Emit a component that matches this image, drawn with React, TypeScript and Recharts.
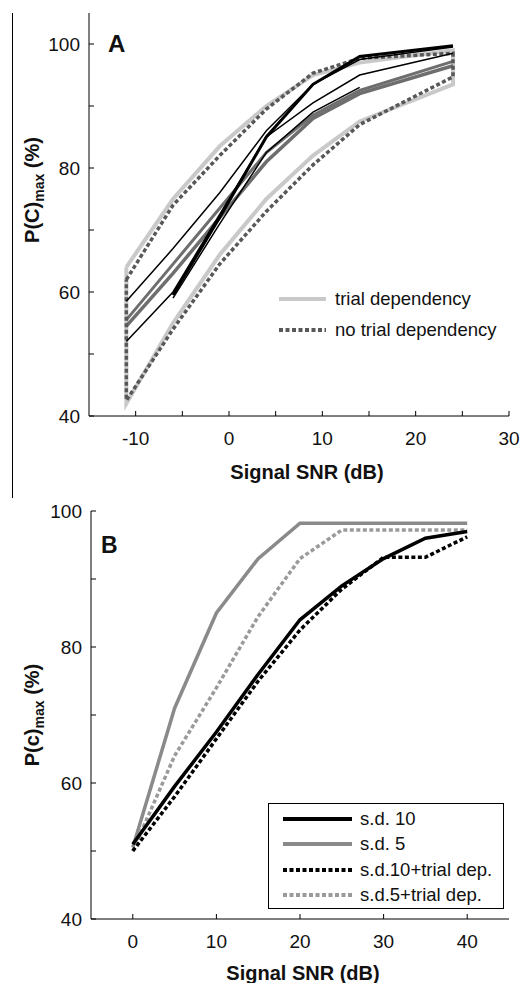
import { LineChart, Line, XAxis, YAxis } from 'recharts'

const FONT = '"Liberation Sans", Arial, Helvetica, sans-serif'

// ---- panel A data (signal SNR in dB, P(C)max in %) ----
const SNR_A = [-11, -6, -1, 4, 9, 14, 24]
const TRIAL_HI = [64, 75, 83.5, 90, 95, 97, 99]
const TRIAL_LO = [42, 55, 66, 75, 82, 87.5, 93.5]
const NOTRIAL_HI = [62, 74, 82, 89.5, 95.3, 97.7, 98.5]
const NOTRIAL_LO = [42.5, 54, 64.5, 73, 80.5, 87, 94.7]
const MID_1 = [54.5, 63, 72, 81, 88, 92, 96.5]
const MID_2 = [55.5, 64.5, 73.5, 82.5, 88.5, 92.5, 97.2]
const FIT_1 = [58.5, 67, 76, 86, 93.5, 97.5, 99.5]
const FIT_2 = [52, 60, 72.5, 85, 90.5, 95, 98.5]
const FIT_3 = [null, 59, 71, 82.5, 89, 93, null]
const FIT_4 = [null, 59.5, 72, 85, 93.5, 98, 99.7]

const X_TICKS_A = [-10, -5, 0, 5, 10, 15, 20, 25, 30]
const X_LABELS_A = [-10, 0, 10, 20, 30]

// ---- panel B data ----
const SNR_B = [0, 5, 10, 15, 20, 25, 30, 35, 40]
const SD10 = [51, 59.5, 67.5, 76, 84, 89, 93, 96, 97]
const SD5 = [50.5, 71, 85, 93, 98.2, 98.2, 98.2, 98.2, 98.2]
const SD10_TRIAL = [50, 58, 66.5, 75, 82.5, 88.5, 93.2, 93.2, 96.2]
const SD5_TRIAL = [50, 64, 74, 84.5, 93, 97.2, 97.2, 97.2, 97.2]

const X_TICKS_B = [0, 10, 20, 30, 40]
const X_LABELS_B = [0, 10, 20, 30, 40]

const Y_TICKS = [40, 50, 60, 70, 80, 90, 100]
const Y_LABELS = [40, 60, 80, 100]

type Pt = { x: number; y: number }

const toPts = (xs: number[], ys: (number | null)[]): Pt[] =>
  xs.map((x, i) => ({ x, y: ys[i] as number })).filter((p) => p.y != null)

// closed outline: upper curve out, lower curve back
const envelope = (xs: number[], hi: number[], lo: number[]): Pt[] => {
  const top = toPts(xs, hi)
  return [...top, ...toPts(xs, lo).reverse(), top[0]]
}

const makeTick = (side: 'bottom' | 'top' | 'left' | 'right', labels: number[]) =>
  // eslint-disable-next-line @typescript-eslint/no-explicit-any
  (props: any) => {
    const { x, y, payload } = props
    const v = payload.value
    const show = labels.includes(v)
    if (side === 'bottom') {
      return (
        <g>
          <line x1={x} x2={x} y1={y} y2={y - 5} stroke="#000" />
          {show && (
            <text x={x} y={y + 29} textAnchor="middle" fontSize={19} fontFamily={FONT} fill="#111">
              {v}
            </text>
          )}
        </g>
      )
    }
    if (side === 'top') return <line x1={x} x2={x} y1={y} y2={y + 5} stroke="#000" />
    if (side === 'right') return <line x1={x} x2={x - 5} y1={y} y2={y} stroke="#000" />
    return (
      <g>
        <line x1={x} x2={x + 5} y1={y} y2={y} stroke="#000" />
        {show && (
          <text x={x - 9} y={y + 7} textAnchor="end" fontSize={19} fontFamily={FONT} fill="#111">
            {v}
          </text>
        )}
      </g>
    )
  }

const LIGHT = '#c9c9c9'
const MID = '#6e6e6e'
const DARK_DASH = '#585858'

function Axes({ xDomain, xTicks, xLabels, yDomain }: {
  xDomain: [number, number]
  xTicks: number[]
  xLabels: number[]
  yDomain: [number, number]
}) {
  return [
    <XAxis key="xb" type="number" dataKey="x" domain={xDomain} ticks={xTicks} interval={0}
      allowDataOverflow height={30} tickSize={0} tickMargin={0} tickLine={false}
      axisLine={{ stroke: '#000' }} tick={makeTick('bottom', xLabels)} />,
    <XAxis key="xt" xAxisId="top" orientation="top" type="number" dataKey="x" domain={xDomain}
      ticks={xTicks} interval={0} allowDataOverflow height={0} tickSize={0} tickMargin={0}
      tickLine={false} axisLine={{ stroke: '#000' }} tick={makeTick('top', [])} />,
    <YAxis key="yl" type="number" domain={yDomain} ticks={Y_TICKS} interval={0} allowDataOverflow
      width={50} tickSize={0} tickMargin={0} tickLine={false} axisLine={{ stroke: '#000' }}
      tick={makeTick('left', Y_LABELS)} />,
    <YAxis key="yr" yAxisId="right" orientation="right" type="number" domain={yDomain}
      ticks={Y_TICKS} interval={0} allowDataOverflow width={0} tickSize={0} tickMargin={0}
      tickLine={false} axisLine={{ stroke: '#000' }} tick={makeTick('right', [])} />,
  ]
}

const lineProps = { type: 'linear' as const, dataKey: 'y', dot: false, activeDot: false, isAnimationActive: false }

function PanelA() {
  return (
    <LineChart width={529} height={490} margin={{ top: 13, right: 20, bottom: 44, left: 39 }}>
      {Axes({ xDomain: [-15, 30], xTicks: X_TICKS_A, xLabels: X_LABELS_A, yDomain: [40, 105] })}
      <Line {...lineProps} data={envelope(SNR_A, TRIAL_HI, TRIAL_LO)} stroke={LIGHT} strokeWidth={4} />
      <Line {...lineProps} data={toPts(SNR_A, MID_1)} stroke={MID} strokeWidth={3.5} />
      <Line {...lineProps} data={toPts(SNR_A, MID_2)} stroke={MID} strokeWidth={3} />
      <Line {...lineProps} data={envelope(SNR_A, NOTRIAL_HI, NOTRIAL_LO)} stroke={DARK_DASH}
        strokeWidth={3.5} strokeDasharray="4 2.5" />
      <Line {...lineProps} data={toPts(SNR_A, FIT_1)} stroke="#000" strokeWidth={1.5} />
      <Line {...lineProps} data={toPts(SNR_A, FIT_2)} stroke="#000" strokeWidth={1.5} />
      <Line {...lineProps} data={toPts(SNR_A, FIT_3)} stroke="#000" strokeWidth={1.5} />
      <Line {...lineProps} data={toPts(SNR_A, FIT_4)} stroke="#000" strokeWidth={3} />
    </LineChart>
  )
}

function PanelB() {
  return (
    <LineChart width={529} height={493} margin={{ top: 21, right: 20, bottom: 34, left: 41 }}>
      {Axes({ xDomain: [-5, 45], xTicks: X_TICKS_B, xLabels: X_LABELS_B, yDomain: [40, 100] })}
      <Line {...lineProps} data={toPts(SNR_B, SD5)} stroke="#8a8a8a" strokeWidth={3.5} />
      <Line {...lineProps} data={toPts(SNR_B, SD5_TRIAL)} stroke="#9a9a9a" strokeWidth={3.5}
        strokeDasharray="4 2.5" />
      <Line {...lineProps} data={toPts(SNR_B, SD10)} stroke="#000" strokeWidth={3.5} />
      <Line {...lineProps} data={toPts(SNR_B, SD10_TRIAL)} stroke="#000" strokeWidth={3.5}
        strokeDasharray="4 2.5" />
    </LineChart>
  )
}

const abs = (left: number, top: number): React.CSSProperties => ({ position: 'absolute', left, top })

const Sample = ({ color, dash, w }: { color: string; dash?: string; w: number }) => (
  <svg width={w} height={8} style={{ display: 'block' }}>
    <line x1={0} x2={w} y1={4} y2={4} stroke={color} strokeWidth={4} strokeDasharray={dash} />
  </svg>
)

const yTitle = (cx: number, cy: number, p: string) => (
  <div style={{
    ...abs(cx, cy), transform: 'translate(-50%, -50%) rotate(-90deg)', whiteSpace: 'nowrap',
    fontWeight: 'bold', fontSize: 20, color: '#111',
  }}>
    P({p})<sub style={{ fontSize: 14 }}>max</sub> (%)
  </div>
)

const xTitle = (cx: number, cy: number) => (
  <div style={{
    ...abs(cx, cy), transform: 'translate(-50%, -50%)', whiteSpace: 'nowrap',
    fontWeight: 'bold', fontSize: 20, color: '#111',
  }}>
    Signal SNR (dB)
  </div>
)

const LEGEND_A = [
  { label: 'trial dependency', color: LIGHT, dash: undefined, top: 288 },
  { label: 'no trial dependency', color: DARK_DASH, dash: '4 2.5', top: 319 },
]

const LEGEND_B = [
  { label: 's.d. 10', color: '#000', dash: undefined },
  { label: 's.d. 5', color: '#8a8a8a', dash: undefined },
  { label: 's.d.10+trial dep.', color: '#000', dash: '4 2.5' },
  { label: 's.d.5+trial dep.', color: '#9a9a9a', dash: '4 2.5' },
]

export default function App() {
  return (
    <div style={{ position: 'absolute', left: 0, top: 0, width: 529, height: 983, background: '#fff', fontFamily: FONT, overflow: 'hidden' }}>
      <div style={{ position: 'absolute', left: 0, top: 0 }}><PanelA /></div>
      <div style={{ position: 'absolute', left: 0, top: 490 }}><PanelB /></div>

      {/* figure border remnant on the left */}
      <div style={{ ...abs(12, 13), width: 1, height: 485, background: '#000' }} />

      <div style={{ ...abs(108, 30), fontWeight: 'bold', fontSize: 24, color: '#111' }}>A</div>
      <div style={{ ...abs(101, 532), fontWeight: 'bold', fontSize: 23, color: '#111' }}>B</div>

      {yTitle(34, 190, 'C')}
      {yTitle(34, 715, 'c')}
      {xTitle(307, 472)}
      {xTitle(303, 973)}

      {LEGEND_A.map((l) => (
        <div key={l.label} style={{ ...abs(279, l.top), display: 'flex', alignItems: 'center', gap: 9, fontSize: 18.5, color: '#111', whiteSpace: 'nowrap' }}>
          <Sample color={l.color} dash={l.dash} w={47} />
          <span>{l.label}</span>
        </div>
      ))}

      <div style={{ ...abs(268, 803), width: 236, height: 106, border: '1px solid #000', boxSizing: 'border-box', paddingTop: 2 }}>
        {LEGEND_B.map((l) => (
          <div key={l.label} style={{ display: 'flex', alignItems: 'center', gap: 8, height: 25.5, paddingLeft: 14, fontSize: 18.5, color: '#111', whiteSpace: 'nowrap' }}>
            <Sample color={l.color} dash={l.dash} w={69} />
            <span>{l.label}</span>
          </div>
        ))}
      </div>
    </div>
  )
}
